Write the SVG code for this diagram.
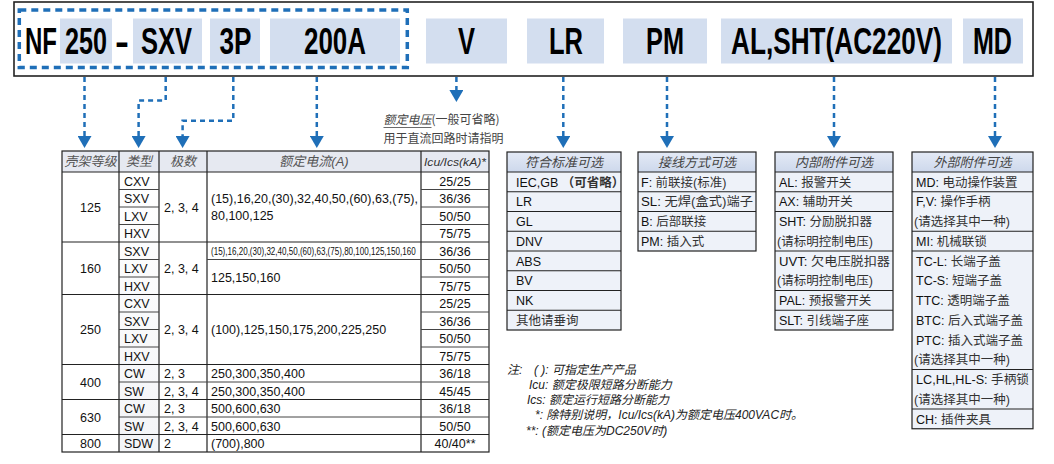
<svg xmlns="http://www.w3.org/2000/svg" width="1054" height="464" viewBox="0 0 1054 464">
<defs>
<linearGradient id="hdr" x1="0" y1="0" x2="0" y2="1"><stop offset="0" stop-color="#e4eaf6"/><stop offset="1" stop-color="#cdd8ec"/></linearGradient>
<linearGradient id="cell" x1="0" y1="0" x2="0" y2="1"><stop offset="0" stop-color="#ffffff"/><stop offset="1" stop-color="#eceef2"/></linearGradient>
<marker id="ah" markerUnits="userSpaceOnUse" markerWidth="12" markerHeight="14" viewBox="0 0 12 14" refX="0" refY="7" orient="auto"><path d="M0,0 L12,7 L0,14 Z" fill="#1f6fb8"/></marker>
</defs>
<style>
.bar{font-family:"Liberation Sans",Arial,sans-serif;font-weight:bold;font-size:37px;fill:#000}
.hl{fill:#d3deef}
.conn{fill:none;stroke:#1f6fb8;stroke-width:2.5;stroke-dasharray:5 4}
.t{font-family:"Liberation Sans","Noto Sans CJK SC",sans-serif;font-size:12.5px;fill:#111}
.c{text-anchor:middle}
.th{font-family:"Liberation Sans","Noto Sans CJK SC",sans-serif;font-size:13px;font-style:italic;fill:#555;text-anchor:middle}
.g{stroke:#222;stroke-width:1.2;fill:none}
.gs{stroke:#444;stroke-width:1;fill:none}
.bx{font-family:"Liberation Sans","Noto Sans CJK SC",sans-serif;font-size:12.5px;fill:#111}
.cj{fill:#333}
.bh{font-family:"Noto Sans CJK SC",sans-serif;font-size:13px;font-style:italic;fill:#444;text-anchor:middle}
.row{fill:#eef2f9}
.note{font-family:"Liberation Sans","Noto Sans CJK SC",sans-serif;font-size:12px;font-style:italic;fill:#222}
.ann{font-family:"Noto Sans CJK SC",sans-serif;font-size:12px;fill:#444}
</style>

<g id="code-bar">
<rect x="14" y="2" width="1019" height="74" fill="#fff" stroke="#222" stroke-width="1.6"/>
<rect class="hl" x="60" y="18.5" width="52" height="45"/>
<rect class="hl" x="133" y="18.5" width="69" height="45"/>
<rect class="hl" x="210" y="18.5" width="50" height="45"/>
<rect class="hl" x="270" y="18.5" width="130" height="45"/>
<rect class="hl" x="426" y="18.5" width="81" height="45"/>
<rect class="hl" x="527" y="18.5" width="77" height="45"/>
<rect class="hl" x="623" y="18.5" width="84" height="45"/>
<rect class="hl" x="721" y="18.5" width="231" height="45"/>
<rect class="hl" x="963" y="18.5" width="60" height="45"/>
<rect x="19.3" y="10" width="388" height="57.5" fill="none" stroke="#1f6fb8" stroke-width="3.5" stroke-dasharray="7 5"/>
<g transform="scale(0.69,1)">
<text class="bar" x="36.23" y="54" textLength="46.38" lengthAdjust="spacingAndGlyphs">NF</text>
<text class="bar" x="94.2" y="54" textLength="60.87" lengthAdjust="spacingAndGlyphs">250</text>
<text class="bar" x="166.67" y="54" textLength="20.29" lengthAdjust="spacingAndGlyphs">-</text>
<text class="bar" x="204.35" y="54" textLength="73.91" lengthAdjust="spacingAndGlyphs">SXV</text>
<text class="bar" x="318.12" y="54" textLength="46.38" lengthAdjust="spacingAndGlyphs">3P</text>
<text class="bar" x="440.58" y="54" textLength="89.86" lengthAdjust="spacingAndGlyphs">200A</text>
<text class="bar" x="663.77" y="54" textLength="24.64" lengthAdjust="spacingAndGlyphs">V</text>
<text class="bar" x="795.65" y="54" textLength="49.28" lengthAdjust="spacingAndGlyphs">LR</text>
<text class="bar" x="936.23" y="54" textLength="55.07" lengthAdjust="spacingAndGlyphs">PM</text>
<text class="bar" x="1059.42" y="54" textLength="305.8" lengthAdjust="spacingAndGlyphs">AL,SHT(AC220V)</text>
<text class="bar" x="1410.14" y="54" textLength="56.52" lengthAdjust="spacingAndGlyphs">MD</text>
</g>
</g>

<g id="connectors">
<path class="conn" d="M84.5,77 V136" marker-end="url(#ah)"/>
<path class="conn" d="M165.7,77 V100.4 H138.6 V136" marker-end="url(#ah)"/>
<path class="conn" d="M233.3,77 V120.7 H182.6 V136" marker-end="url(#ah)"/>
<path class="conn" d="M316.8,77 V136" marker-end="url(#ah)"/>
<path class="conn" d="M456.4,77 V90" marker-end="url(#ah)"/>
<path class="conn" d="M563.3,77 V136" marker-end="url(#ah)"/>
<path class="conn" d="M667,77 V136" marker-end="url(#ah)"/>
<path class="conn" d="M834,77 V136" marker-end="url(#ah)"/>
<path class="conn" d="M995,77 V136" marker-end="url(#ah)"/>
</g>

<g id="voltage-note">
<text class="ann" x="383.5" y="124"><tspan font-style="italic">额定电压</tspan>(一般可省略)</text>
<line x1="383.5" y1="127.5" x2="431.5" y2="127.5" stroke="#444" stroke-width="0.8"/>
<text class="ann" x="383.5" y="143">用于直流回路时请指明</text>
</g>

<g id="spec-table">
<rect x="62" y="151" width="427" height="21" fill="#e6e9f1"/>
<rect x="119" y="172" width="40" height="280" fill="url(#cell)" opacity="0.6"/>
<rect x="62" y="151" width="427" height="301" class="g" stroke-width="1.6"/>
<path class="g" d="M62,172 H489 M62,242 H489 M62,294.5 H489 M62,364.5 H489 M62,399.5 H489 M62,434.5 H489 M119,151 V452 M159,151 V452 M207,151 V452 M421,151 V452"/>
<path class="gs" d="M119,189.5 H159 M119,207 H159 M119,224.5 H159 M119,259.5 H159 M119,277 H159 M119,312 H159 M119,329.5 H159 M119,347 H159 M119,382 H489 M119,417 H489 M421,189.5 H489 M421,207 H489 M421,224.5 H489 M421,259.5 H489 M421,277 H489 M421,312 H489 M421,329.5 H489 M421,347 H489 M207,259.5 H421"/>
<text class="th" x="90.5" y="166">壳架等级</text>
<text class="th" x="139" y="166">类型</text>
<text class="th" x="183" y="166">极数</text>
<text class="th" x="314" y="166">额定电流<tspan font-family="Liberation Sans">(A)</tspan></text>
<text class="th" x="455" y="166" style="font-size:11.5px;fill:#333" textLength="62" lengthAdjust="spacingAndGlyphs">Icu/Ics(kA)*</text>

<text class="t c" x="90.5" y="211.5">125</text>
<text class="t" x="124" y="185.5">CXV</text>
<text class="t" x="124" y="203">SXV</text>
<text class="t" x="124" y="220.5">LXV</text>
<text class="t" x="124" y="238">HXV</text>
<text class="t" x="164" y="211.5">2, 3, 4</text>
<text class="t" x="211" y="202.5" textLength="207" lengthAdjust="spacingAndGlyphs">(15),16,20,(30),32,40,50,(60),63,(75),</text>
<text class="t" x="211" y="220">80,100,125</text>
<text class="t c" x="455" y="185.5">25/25</text>
<text class="t c" x="455" y="203">36/36</text>
<text class="t c" x="455" y="220.5">50/50</text>
<text class="t c" x="455" y="238">75/75</text>

<text class="t c" x="90.5" y="272.5">160</text>
<text class="t" x="124" y="255.5">SXV</text>
<text class="t" x="124" y="273">LXV</text>
<text class="t" x="124" y="290.5">HXV</text>
<text class="t" x="164" y="272.5">2, 3, 4</text>
<text class="t" transform="translate(211,255) scale(1,1.36)" style="font-size:8.05px">(15),16,20,(30),32,40,50,(60),63,(75),80,100,125,150,160</text>
<text class="t" x="211" y="281.5">125,150,160</text>
<text class="t c" x="455" y="255.5">36/36</text>
<text class="t c" x="455" y="273">50/50</text>
<text class="t c" x="455" y="290.5">75/75</text>

<text class="t c" x="90.5" y="334">250</text>
<text class="t" x="124" y="308">CXV</text>
<text class="t" x="124" y="325.5">SXV</text>
<text class="t" x="124" y="343">LXV</text>
<text class="t" x="124" y="360.5">HXV</text>
<text class="t" x="164" y="334">2, 3, 4</text>
<text class="t" x="211" y="334">(100),125,150,175,200,225,250</text>
<text class="t c" x="455" y="308">25/25</text>
<text class="t c" x="455" y="325.5">36/36</text>
<text class="t c" x="455" y="343">50/50</text>
<text class="t c" x="455" y="360.5">75/75</text>

<text class="t c" x="90.5" y="386.5">400</text>
<text class="t" x="124" y="378">CW</text>
<text class="t" x="124" y="395.5">SW</text>
<text class="t" x="164" y="378">2, 3</text>
<text class="t" x="164" y="395.5">2, 3, 4</text>
<text class="t" x="211" y="378">250,300,350,400</text>
<text class="t" x="211" y="395.5">250,300,350,400</text>
<text class="t c" x="455" y="378">36/18</text>
<text class="t c" x="455" y="395.5">45/45</text>

<text class="t c" x="90.5" y="421.5">630</text>
<text class="t" x="124" y="413">CW</text>
<text class="t" x="124" y="430.5">SW</text>
<text class="t" x="164" y="413">2, 3</text>
<text class="t" x="164" y="430.5">2, 3, 4</text>
<text class="t" x="211" y="413">500,600,630</text>
<text class="t" x="211" y="430.5">500,600,630</text>
<text class="t c" x="455" y="413">36/18</text>
<text class="t c" x="455" y="430.5">50/50</text>

<text class="t c" x="90.5" y="448">800</text>
<text class="t" x="124" y="448">SDW</text>
<text class="t" x="164" y="448">2</text>
<text class="t" x="211" y="448">(700),800</text>
<text class="t c" x="455" y="448">40/40**</text>
</g>

<g id="box-standards">
<rect x="507" y="152" width="114" height="20" fill="url(#hdr)"/>
<rect class="row" x="507" y="172" width="114" height="158"/>
<rect x="507" y="152" width="114" height="178" class="g" stroke-width="1.6"/>
<path class="g" d="M507,172 H621 M507,191.75 H621 M507,211.5 H621 M507,231.25 H621 M507,251 H621 M507,270.75 H621 M507,290.5 H621 M507,310.25 H621"/>
<text class="bh" x="564" y="166.5">符合标准可选</text>
<text class="bx" x="516" y="186.5">IEC,GB <tspan font-weight="bold" class="cj">（可省略）</tspan></text>
<text class="bx" x="516" y="206">LR</text>
<text class="bx" x="516" y="226">GL</text>
<text class="bx" x="516" y="245.5">DNV</text>
<text class="bx" x="516" y="265.5">ABS</text>
<text class="bx" x="516" y="285">BV</text>
<text class="bx" x="516" y="305">NK</text>
<text class="bx cj" x="516" y="324.5">其他请垂询</text>
</g>

<g id="box-wiring">
<rect x="638" y="152" width="118" height="20" fill="url(#hdr)"/>
<rect class="row" x="638" y="172" width="118" height="79"/>
<rect x="638" y="152" width="118" height="99" class="g" stroke-width="1.6"/>
<path class="g" d="M638,172 H756 M638,191.75 H756 M638,211.5 H756 M638,231.25 H756"/>
<text class="bh" x="697" y="166.5">接线方式可选</text>
<text class="bx" x="641" y="186.5">F: <tspan class="cj">前联接(标准)</tspan></text>
<text class="bx" x="641" y="206" textLength="112" lengthAdjust="spacingAndGlyphs">SL: <tspan class="cj">无焊(盒式)端子</tspan></text>
<text class="bx" x="641" y="226">B: <tspan class="cj">后部联接</tspan></text>
<text class="bx" x="641" y="245.5">PM: <tspan class="cj">插入式</tspan></text>
</g>

<g id="box-internal">
<rect x="775" y="152" width="118" height="20" fill="url(#hdr)"/>
<rect class="row" x="775" y="172" width="118" height="158"/>
<rect x="775" y="152" width="118" height="178" class="g" stroke-width="1.6"/>
<path class="g" d="M775,172 H893 M775,191.75 H893 M775,211.5 H893 M775,251 H893 M775,290.5 H893 M775,310.25 H893"/>
<text class="bh" x="834" y="166.5">内部附件可选</text>
<text class="bx" x="779" y="186.5">AL: <tspan class="cj">报警开关</tspan></text>
<text class="bx" x="779" y="206">AX: <tspan class="cj">辅助开关</tspan></text>
<text class="bx" x="779" y="226">SHT: <tspan class="cj">分励脱扣器</tspan></text>
<text class="bx cj" x="777" y="245.5">(请标明控制电压)</text>
<text class="bx" x="779" y="265.5" textLength="111" lengthAdjust="spacingAndGlyphs">UVT: <tspan class="cj">欠电压脱扣器</tspan></text>
<text class="bx cj" x="777" y="285">(请标明控制电压)</text>
<text class="bx" x="779" y="305">PAL: <tspan class="cj">预报警开关</tspan></text>
<text class="bx" x="779" y="324.5">SLT: <tspan class="cj">引线端子座</tspan></text>
</g>

<g id="box-external">
<rect x="912" y="152" width="121" height="20" fill="url(#hdr)"/>
<rect class="row" x="912" y="172" width="121" height="256.75"/>
<rect x="912" y="152" width="121" height="276.75" class="g" stroke-width="1.6"/>
<path class="g" d="M912,172 H1033 M912,191.75 H1033 M912,231.25 H1033 M912,251 H1033 M912,369.5 H1033 M912,409 H1033"/>
<text class="bh" x="972.5" y="166.5">外部附件可选</text>
<text class="bx" x="916" y="186.5">MD: <tspan class="cj">电动操作装置</tspan></text>
<text class="bx" x="916" y="206">F,V: <tspan class="cj">操作手柄</tspan></text>
<text class="bx cj" x="914" y="226">(请选择其中一种)</text>
<text class="bx" x="916" y="245.5">MI: <tspan class="cj">机械联锁</tspan></text>
<text class="bx" x="916" y="265.5">TC-L: <tspan class="cj">长端子盖</tspan></text>
<text class="bx" x="916" y="285">TC-S: <tspan class="cj">短端子盖</tspan></text>
<text class="bx" x="916" y="305">TTC: <tspan class="cj">透明端子盖</tspan></text>
<text class="bx" x="916" y="324.5">BTC: <tspan class="cj">后入式端子盖</tspan></text>
<text class="bx" x="916" y="344.5">PTC: <tspan class="cj">插入式端子盖</tspan></text>
<text class="bx cj" x="914" y="364">(请选择其中一种)</text>
<text class="bx" x="916" y="384" textLength="113" lengthAdjust="spacingAndGlyphs">LC,HL,HL-S: <tspan class="cj">手柄锁</tspan></text>
<text class="bx cj" x="914" y="403.5">(请选择其中一种)</text>
<text class="bx" x="916" y="423.5">CH: <tspan class="cj">插件夹具</tspan></text>
</g>

<g id="notes">
<text class="note" x="507" y="374">注:</text>
<text class="note" x="534" y="374">( ): 可指定生产产品</text>
<text class="note" x="529" y="389">Icu: 额定极限短路分断能力</text>
<text class="note" x="527" y="404">Ics: 额定运行短路分断能力</text>
<text class="note" x="535" y="419">*: 除特别说明，Icu/Ics(kA)为额定电压400VAC时。</text>
<text class="note" x="526" y="435">**: (额定电压为DC250V时)</text>
</g>
</svg>
